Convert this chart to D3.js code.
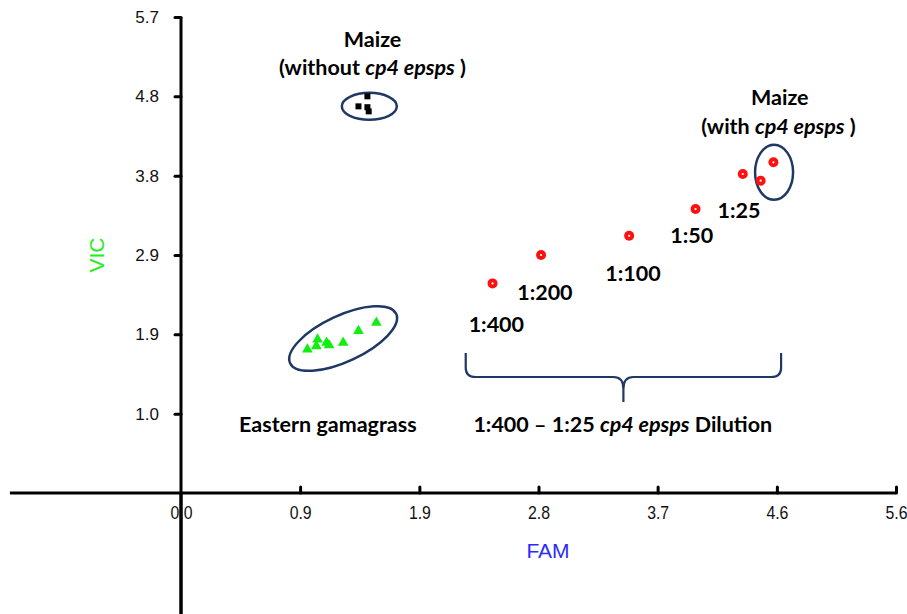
<!DOCTYPE html>
<html><head><meta charset="utf-8">
<script src="https://cdn.jsdelivr.net/npm/d3@7"></script>
<style>html,body{margin:0;padding:0;background:#fff;}svg{display:block;}</style>
</head><body>
<svg id="c" width="907" height="614"></svg>
<script>
// ---- data ----
const xTickValues = [0, 0.933, 1.867, 2.8, 3.733, 4.667, 5.6];
const xTickLabels = ["0.0", "0.9", "1.9", "2.8", "3.7", "4.6", "5.6"];
const yTickValues = [0.95, 1.9, 2.85, 3.8, 4.75, 5.7];
const yTickLabels = ["1.0", "1.9", "2.9", "3.8", "4.8", "5.7"];

// Maize without cp4 epsps (black)
const maizeNegFAM = [1.46, 1.39, 1.46, 1.47];
const maizeNegVIC = [4.75, 4.63, 4.62, 4.57];
// Eastern gamagrass (green)
const gamaFAM = [0.99, 1.07, 1.06, 1.14, 1.16, 1.27, 1.39, 1.53];
const gamaVIC = [1.72, 1.84, 1.76, 1.80, 1.77, 1.80, 1.94, 2.04];
// Dilutions + maize with cp4 epsps (red)
const redFAM = [2.44, 2.82, 3.51, 4.03, 4.40, 4.54, 4.64];
const redVIC = [2.51, 2.85, 3.08, 3.40, 3.82, 3.74, 3.96];

const dilutionLabels = ["1:400", "1:200", "1:100", "1:50", "1:25"];
const dilutionLabelFAM = [2.47, 2.85, 3.54, 4.00, 4.37];
const dilutionLabelVIC = [1.93, 2.31, 2.54, 2.99, 3.29];

// ---- layout ----
const svg = d3.select("#c");
const x = d3.scaleLinear().domain([0, 5.6]).range([181, 896]);
const y = d3.scaleLinear().domain([0, 5.7]).range([493, 17]);
const xAxisStart = -1.34, yAxisEnd = -1.45;
const navy = "#1f3864";

// axis lines
svg.append("line").attr("x1", x(xAxisStart)).attr("x2", x(5.6)).attr("y1", y(0)).attr("y2", y(0))
  .attr("stroke", "#000").attr("stroke-width", 3);
svg.append("line").attr("x1", x(0)).attr("x2", x(0)).attr("y1", y(5.7)).attr("y2", y(yAxisEnd))
  .attr("stroke", "#000").attr("stroke-width", 3);

// y axis ticks
const yAxis = d3.axisLeft(y).tickValues(yTickValues).tickSize(6).tickPadding(16)
  .tickFormat((d, i) => yTickLabels[i]);
const gy = svg.append("g").attr("transform", `translate(${x(0)},0)`).call(yAxis);
gy.select(".domain").remove();
gy.selectAll(".tick line").attr("stroke", "#000").attr("stroke-width", 3).attr("stroke-linecap", "round");
gy.selectAll(".tick text").attr("font-family", "Liberation Sans, Arial, sans-serif").attr("font-size", 17).attr("fill", "#111");

// x axis ticks (upward)
const xAxis = d3.axisBottom(x).tickValues(xTickValues).tickSize(-6).tickPadding(13)
  .tickFormat((d, i) => xTickLabels[i]);
const gx = svg.append("g").attr("transform", `translate(0,${y(0)})`).call(xAxis);
gx.select(".domain").remove();
gx.selectAll(".tick line").attr("stroke", "#000").attr("stroke-width", 3).attr("stroke-linecap", "round")
  .filter(d => d === 0).remove();
gx.selectAll(".tick text").attr("font-family", "Liberation Sans, Arial, sans-serif").attr("font-size", 18)
  .attr("fill", "#111").attr("transform", "scale(0.88,1)");
// redraw y-axis over "0.0"
svg.append("line").attr("x1", x(0)).attr("x2", x(0)).attr("y1", y(0)).attr("y2", y(yAxisEnd))
  .attr("stroke", "#000").attr("stroke-width", 3);

// axis titles
svg.append("text").attr("x", 548).attr("y", 558).attr("text-anchor", "middle")
  .attr("font-family", "Liberation Sans, Arial, sans-serif").attr("font-size", 21).attr("fill", "#2b2bff").text("FAM");
svg.append("text").attr("transform", `translate(104,${y(2.85)}) rotate(-90)`).attr("text-anchor", "middle")
  .attr("font-family", "Liberation Sans, Arial, sans-serif").attr("font-size", 21).attr("fill", "#22ee22").text("VIC");

// ellipses
function ellipse(cx, cy, rx, ry, rot) {
  svg.append("ellipse").attr("cx", x(cx)).attr("cy", y(cy)).attr("rx", rx).attr("ry", ry)
    .attr("transform", `rotate(${rot},${x(cx)},${y(cy)})`)
    .attr("fill", "none").attr("stroke", navy).attr("stroke-width", 2.5);
}
ellipse(1.475, 4.63, 27.5, 13.5, 0);
ellipse(1.27, 1.85, 58.5, 23, -25);
ellipse(4.645, 3.84, 19, 27.5, 0);

// points
const sq = d3.symbol().type(d3.symbolSquare).size(36);
svg.append("g").selectAll("path").data(maizeNegFAM).join("path")
  .attr("d", sq).attr("transform", (d, i) => `translate(${x(d)},${y(maizeNegVIC[i])})`).attr("fill", "#000");
const tri = d3.symbol().type(d3.symbolTriangle).size(50);
svg.append("g").selectAll("path").data(gamaFAM).join("path")
  .attr("d", tri).attr("transform", (d, i) => `translate(${x(d)},${y(gamaVIC[i])})`).attr("fill", "#11ee11");
const rg = svg.append("g");
rg.selectAll("circle.o").data(redFAM).join("circle").attr("class", "o")
  .attr("cx", d => x(d)).attr("cy", (d, i) => y(redVIC[i])).attr("r", 5).attr("fill", "#ff1010");
rg.selectAll("circle.i").data(redFAM).join("circle").attr("class", "i")
  .attr("cx", d => x(d)).attr("cy", (d, i) => y(redVIC[i])).attr("r", 1.1).attr("fill", "#fff");

// bold labels
const bold = "Lato, 'Open Sans', sans-serif";
function label(tx, ty, parts, size) {
  const t = svg.append("text").attr("x", tx).attr("y", ty).attr("text-anchor", "middle")
    .attr("font-family", bold).attr("font-weight", "bold").attr("font-size", size || 21.5).attr("fill", "#000");
  parts.forEach(p => t.append("tspan").attr("font-style", p[1] ? "italic" : "normal").text(p[0]));
  return t;
}
label(x(1.5), 47, [["Maize"]]);
label(x(1.5), 75, [["(without "], ["cp4 epsps", 1], [" )"]]);
label(x(4.69), 105, [["Maize"]]);
label(x(4.68), 134, [["(with "], ["cp4 epsps", 1], [" )"]]);
label(x(1.15), 432, [["Eastern gamagrass"]]);
label(x(3.46), 432, [["1:400 \u2013 1:25 "], ["cp4 epsps", 1], [" Dilution"]]);
dilutionLabels.forEach((s, i) => label(x(dilutionLabelFAM[i]), y(dilutionLabelVIC[i]), [[s]]));

// brace
const bl = x(2.23), br = x(4.70), bm = (bl + br) / 2, bt = 353, bh = 377, bb = 402;
const p = d3.path();
p.moveTo(bl, bt); p.lineTo(bl, bh - 9); p.quadraticCurveTo(bl, bh, bl + 10, bh);
p.lineTo(bm - 10, bh); p.quadraticCurveTo(bm, bh, bm, bh + 12); p.lineTo(bm, bb);
p.moveTo(bm, bh + 12); p.quadraticCurveTo(bm, bh, bm + 10, bh);
p.lineTo(br - 10, bh); p.quadraticCurveTo(br, bh, br, bh - 9); p.lineTo(br, bt);
svg.append("path").attr("d", p.toString()).attr("fill", "none").attr("stroke", navy).attr("stroke-width", 2.2);
</script>
</body></html>
